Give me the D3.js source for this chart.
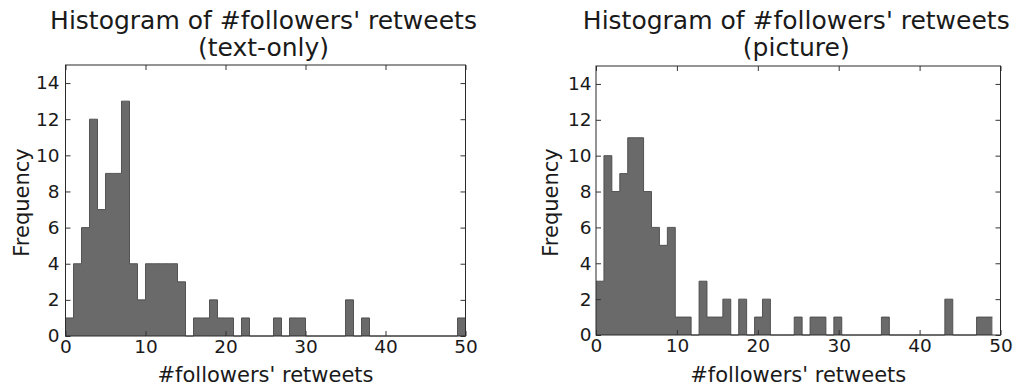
<!DOCTYPE html>
<html>
<head>
<meta charset="utf-8">
<script src="https://cdn.jsdelivr.net/npm/d3@7"></script>
<style>
  body { margin: 0; background: #fff; }
  text { font-family: "DejaVu Sans", sans-serif; fill: #1a1a1a; }
</style>
</head>
<body>
<div id="chart"></div>
<script>
// counts per bin
var textOnlyCounts = [1,4,6,12,7,9,9,13,4,2, 4,4,4,4,3,0,1,1,2,1,
                      1,0,1,0,0,0,1,0,1,1, 0,0,0,0,0,2,0,1,0,0,
                      0,0,0,0,0,0,0,0,0,1];
var pictureCounts = [3,10,8,9,11,11,8,6,5,6, 1,1,0,3,1,1,2,0,2,0,
                     1,2,0,0,0,1,0,1,1,0, 1,0,0,0,0,0,1,0,0,0,
                     0,0,0,0,2,0,0,0,1,1];
var textOnlyBinWidth = 1;
var pictureBinWidth = 0.98;
var xTicks = [0, 10, 20, 30, 40, 50];
var yTicks = [0, 2, 4, 6, 8, 10, 12, 14];
var titles = [["Histogram of #followers' retweets", "(text-only)"],
              ["Histogram of #followers' retweets", "(picture)"]];
var xLabel = "#followers' retweets";
var yLabel = "Frequency";

var W = 1022, H = 387;
var svg = d3.select("#chart").append("svg")
    .attr("width", W)
    .attr("height", H);

var panels = [
  {counts: textOnlyCounts, bw: textOnlyBinWidth, title: titles[0],
   left: 65.5, right: 465.5, top: 65, bottom: 336, ypad: 6, ylab: 22},
  {counts: pictureCounts, bw: pictureBinWidth, title: titles[1],
   left: 596, right: 1000.5, top: 66, bottom: 335, ypad: 4.5, ylab: 551}
];

panels.forEach(function(p){
  var x = d3.scaleLinear().domain([0, 50]).range([p.left, p.right]);
  var y = d3.scaleLinear().domain([0, 15]).range([p.bottom, p.top]);
  var g = svg.append("g");

  // stepfilled histogram
  var pts = p.counts.map(function(d, i){ return [i * p.bw, d]; });
  pts.push([p.counts.length * p.bw, p.counts[p.counts.length - 1]]);
  g.append("path")
    .datum(pts)
    .attr("fill", "#6a6a6a")
    .attr("d", d3.area()
        .x(function(d){ return x(d[0]); })
        .y0(y(0))
        .y1(function(d){ return y(d[1]); })
        .curve(d3.curveStepAfter));
  g.append("path")
    .datum(pts)
    .attr("fill", "none")
    .attr("stroke", "#4a4a4a")
    .attr("stroke-width", 0.9)
    .attr("d", d3.line()
        .x(function(d){ return x(d[0]); })
        .y(function(d){ return y(d[1]); })
        .curve(d3.curveStepAfter));

  // axes, ticks pointing inward
  var axB = g.append("g").attr("transform", "translate(0," + p.bottom + ")")
    .call(d3.axisBottom(x).tickValues(xTicks).tickSize(-5).tickPadding(4));
  var axL = g.append("g").attr("transform", "translate(" + p.left + ",0)")
    .call(d3.axisLeft(y).tickValues(yTicks).tickSize(-5).tickPadding(p.ypad));
  var axT = g.append("g").attr("transform", "translate(0," + p.top + ")")
    .call(d3.axisTop(x).tickValues(xTicks).tickSize(-5).tickFormat(""));
  var axR = g.append("g").attr("transform", "translate(" + p.right + ",0)")
    .call(d3.axisRight(y).tickValues(yTicks).tickSize(-5).tickFormat(""));

  [axB, axL, axT, axR].forEach(function(a){
    a.select(".domain").remove();
    a.selectAll(".tick line").attr("stroke", "#333");
    a.selectAll("text").attr("font-size", 18.5).attr("fill", "#1a1a1a")
      .attr("font-family", "DejaVu Sans");
  });

  // frame
  g.append("rect")
    .attr("x", p.left).attr("y", p.top)
    .attr("width", p.right - p.left).attr("height", p.bottom - p.top)
    .attr("fill", "none").attr("stroke", "#2a2a2a").attr("stroke-width", 1);

  var cx = (p.left + p.right) / 2;
  // title
  g.append("text").attr("x", cx - 2).attr("y", 29)
    .attr("text-anchor", "middle").attr("font-size", 25).text(p.title[0]);
  g.append("text").attr("x", cx - 2).attr("y", 56)
    .attr("text-anchor", "middle").attr("font-size", 25).text(p.title[1]);

  // axis labels
  g.append("text").attr("x", cx).attr("y", 382)
    .attr("text-anchor", "middle").attr("font-size", 21).text(xLabel);
  g.append("text")
    .attr("transform", "translate(" + p.ylab + "," + ((p.top + p.bottom) / 2 + 2) + ") rotate(-90)")
    .attr("text-anchor", "middle").attr("dy", "0.35em")
    .attr("font-size", 21).text(yLabel);
});
</script>
</body>
</html>
